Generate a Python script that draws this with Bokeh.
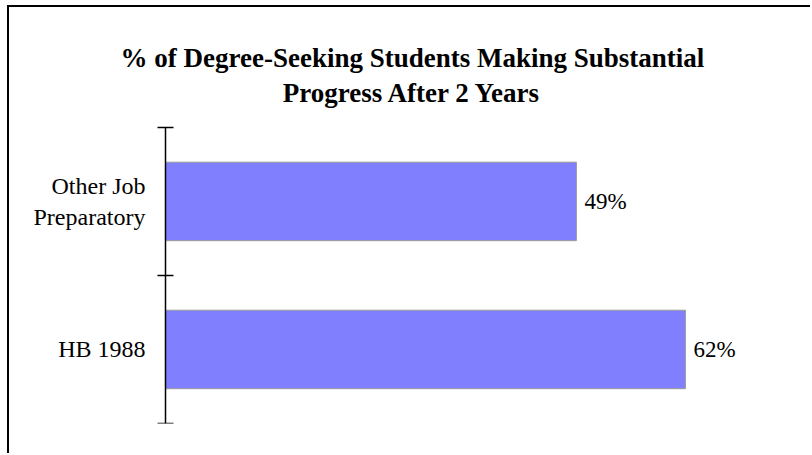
from bokeh.plotting import figure
from bokeh.models import Range1d, FixedTicker, ColumnDataSource, LinearAxis
from bokeh.embed import file_html
from bokeh.resources import INLINE
from bokeh.core.properties import value

# ---- data ----
categories = ["HB 1988", "Other Job\nPreparatory"]
percent = [62, 49]
value_labels = ["62%", "49%"]
title_lines = ["% of Degree-Seeking Students Making Substantial",
               "Progress After 2 Years"]

FONT = "Liberation Serif"

n = len(categories)
positions = [i + 0.5 for i in range(n)]
boundaries = list(range(n + 1))

src = ColumnDataSource(dict(y=positions, pct=percent, lbl=value_labels))

p = figure(width=803, height=448, output_backend="svg", toolbar_location=None,
           x_range=Range1d(-18.6, 70), y_range=Range1d(0, 2.81),
           x_axis_location=None, y_axis_location=None,
           min_border_left=0, min_border_top=0, min_border_bottom=32,
           min_border_right=60)
p.styles = {"margin-left": "7px", "margin-top": "5px",
            "border-left": "2px solid black", "border-top": "2px solid black"}
p.outline_line_color = None
p.background_fill_color = "white"
p.border_fill_color = "white"
p.xgrid.visible = False
p.ygrid.visible = False

ax = LinearAxis(ticker=FixedTicker(ticks=positions, minor_ticks=boundaries),
                bounds=(0, n), fixed_location=0)
ax.major_label_overrides = {pos: cat for pos, cat in zip(positions, categories)}
ax.major_tick_line_color = None
ax.major_tick_in = 0
ax.major_tick_out = 0
ax.minor_tick_in = 8
ax.minor_tick_out = 8
ax.minor_tick_line_color = "black"
ax.minor_tick_line_width = 1.5
ax.axis_line_color = "black"
ax.axis_line_width = 1.5
ax.major_label_standoff = 12
ax.major_label_text_font = FONT
ax.major_label_text_font_size = "24px"
ax.major_label_text_color = "black"
p.add_layout(ax, "left")

p.hbar(y="y", right="pct", left=0, height=0.53, source=src,
       fill_color="#8080FF", line_color="#9a9a9a", line_width=1)

p.text(x="pct", y="y", text="lbl", source=src, x_offset=8,
       text_baseline="middle", text_align="left",
       text_font=value(FONT), text_font_size="23px",
       text_color="black")

# chart title (two centred lines)
p.text(x=[29.45, 29.45], y=[2.466, 2.23], text=title_lines,
       text_align="center", text_baseline="alphabetic",
       text_font=value(FONT), text_font_style="bold",
       text_font_size="27px", text_color="black")

open("out.html", "w").write(file_html(p, INLINE))
